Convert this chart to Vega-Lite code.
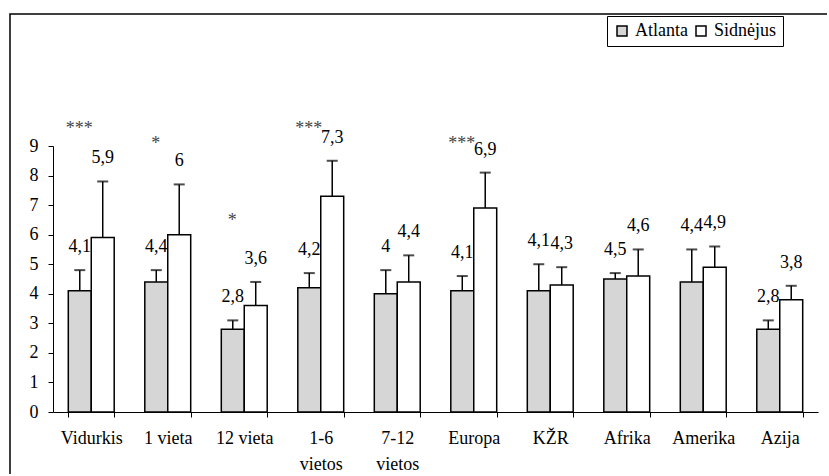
{
  "$schema": "https://vega.github.io/schema/vega-lite/v6.json",
  "autosize": "none",
  "width": 819,
  "height": 462,
  "padding": {"left": 10, "top": 14, "right": -2, "bottom": -2},
  "background": "white",
  "config": {
    "font": "Liberation Serif",
    "view": {"stroke": "black", "strokeWidth": 1.5},
    "locale": {"number": {"decimal": ",", "thousands": " ", "grouping": [3], "currency": ["", " €"]}},
    "legend": {"labelFont": "Liberation Serif"},
    "axis": {
      "grid": false,
      "title": null,
      "domainColor": "black",
      "domainWidth": 1,
      "tickColor": "black",
      "tickWidth": 1,
      "tickSize": 5,
      "labelColor": "black",
      "labelFont": "Liberation Serif",
      "labelFontSize": 18
    }
  },
  "datasets": {
    "bars": [
      {"grupe": "Vidurkis", "miestas": "Atlanta", "vidurkis": 4.1, "virsus": 4.8},
      {"grupe": "Vidurkis", "miestas": "Sidnėjus", "vidurkis": 5.9, "virsus": 7.8},
      {"grupe": "1 vieta", "miestas": "Atlanta", "vidurkis": 4.4, "virsus": 4.8},
      {"grupe": "1 vieta", "miestas": "Sidnėjus", "vidurkis": 6, "virsus": 7.7},
      {"grupe": "12 vieta", "miestas": "Atlanta", "vidurkis": 2.8, "virsus": 3.1},
      {"grupe": "12 vieta", "miestas": "Sidnėjus", "vidurkis": 3.6, "virsus": 4.4},
      {"grupe": "1-6 vietos", "miestas": "Atlanta", "vidurkis": 4.2, "virsus": 4.7},
      {"grupe": "1-6 vietos", "miestas": "Sidnėjus", "vidurkis": 7.3, "virsus": 8.5},
      {"grupe": "7-12 vietos", "miestas": "Atlanta", "vidurkis": 4, "virsus": 4.8},
      {"grupe": "7-12 vietos", "miestas": "Sidnėjus", "vidurkis": 4.4, "virsus": 5.3},
      {"grupe": "Europa", "miestas": "Atlanta", "vidurkis": 4.1, "virsus": 4.6},
      {"grupe": "Europa", "miestas": "Sidnėjus", "vidurkis": 6.9, "virsus": 8.1},
      {"grupe": "KŽR", "miestas": "Atlanta", "vidurkis": 4.1, "virsus": 5.0},
      {"grupe": "KŽR", "miestas": "Sidnėjus", "vidurkis": 4.3, "virsus": 4.9},
      {"grupe": "Afrika", "miestas": "Atlanta", "vidurkis": 4.5, "virsus": 4.7},
      {"grupe": "Afrika", "miestas": "Sidnėjus", "vidurkis": 4.6, "virsus": 5.5},
      {"grupe": "Amerika", "miestas": "Atlanta", "vidurkis": 4.4, "virsus": 5.5},
      {"grupe": "Amerika", "miestas": "Sidnėjus", "vidurkis": 4.9, "virsus": 5.6},
      {"grupe": "Azija", "miestas": "Atlanta", "vidurkis": 2.8, "virsus": 3.1},
      {"grupe": "Azija", "miestas": "Sidnėjus", "vidurkis": 3.8, "virsus": 4.27}
    ],
    "reiksmingumas": [
      {"grupe": "Vidurkis", "zenklas": "***", "lygis": 9.4},
      {"grupe": "1 vieta", "zenklas": "*", "lygis": 8.9},
      {"grupe": "12 vieta", "zenklas": "*", "lygis": 6.3},
      {"grupe": "1-6 vietos", "zenklas": "***", "lygis": 9.4},
      {"grupe": "Europa", "zenklas": "***", "lygis": 8.9}
    ]
  },
  "layer": [
    {
      "data": {"name": "bars"},
      "mark": {"type": "bar", "stroke": "black", "strokeWidth": 1.5},
      "encoding": {
        "x": {
          "field": "grupe",
          "type": "nominal",
          "scale": {
            "domain": ["Vidurkis", "1 vieta", "12 vieta", "1-6 vietos", "7-12 vietos", "Europa", "KŽR", "Afrika", "Amerika", "Azija"],
            "range": [43, 808],
            "paddingInner": 0.4,
            "paddingOuter": 0.2
          },
          "axis": {
            "orient": "bottom",
            "offset": -64,
            "tickBand": "extent",
            "labelAngle": 0,
            "labelPadding": 12,
            "labelLineHeight": 26,
            "labelExpr": "indexof(datum.label, 'vietos') > 0 ? split(datum.label, ' ') : datum.label"
          }
        },
        "xOffset": {
          "field": "miestas",
          "type": "nominal",
          "scale": {"domain": ["Atlanta", "Sidnėjus"], "paddingInner": 0, "paddingOuter": 0}
        },
        "y": {
          "field": "vidurkis",
          "type": "quantitative",
          "scale": {"domain": [0, 9], "range": [398, 132], "nice": false},
          "axis": {
            "orient": "left",
            "offset": -43,
            "values": [0, 1, 2, 3, 4, 5, 6, 7, 8, 9],
            "labelPadding": 10
          }
        },
        "fill": {
          "field": "miestas",
          "type": "nominal",
          "scale": {"domain": ["Atlanta", "Sidnėjus"], "range": ["#d6d6d6", "#ffffff"]},
          "legend": {
            "orient": "none",
            "legendX": 597,
            "legendY": 2,
            "direction": "horizontal",
            "title": null,
            "symbolType": "square",
            "symbolSize": 100,
            "symbolStrokeColor": "black",
            "symbolStrokeWidth": 1.5,
            "labelFontSize": 18,
            "labelColor": "black",
            "labelOffset": 4,
            "columnPadding": 4,
            "padding": 6,
            "strokeColor": "black",
            "fillColor": "white"
          }
        }
      }
    },
    {
      "data": {"name": "bars"},
      "mark": {"type": "rule", "color": "black", "strokeWidth": 1.5},
      "encoding": {
        "x": {"field": "grupe", "type": "nominal"},
        "xOffset": {"field": "miestas", "type": "nominal"},
        "y": {"field": "vidurkis", "type": "quantitative"},
        "y2": {"field": "virsus"}
      }
    },
    {
      "data": {"name": "bars"},
      "mark": {"type": "tick", "orient": "horizontal", "color": "black", "size": 11, "thickness": 2},
      "encoding": {
        "x": {"field": "grupe", "type": "nominal"},
        "xOffset": {"field": "miestas", "type": "nominal"},
        "y": {"field": "virsus", "type": "quantitative"}
      }
    },
    {
      "data": {"name": "bars"},
      "mark": {"type": "text", "fontSize": 18, "color": "black", "baseline": "middle", "dy": -23},
      "encoding": {
        "x": {"field": "grupe", "type": "nominal"},
        "xOffset": {"field": "miestas", "type": "nominal"},
        "y": {"field": "virsus", "type": "quantitative"},
        "text": {"field": "vidurkis", "type": "quantitative", "format": "~g"}
      }
    },
    {
      "data": {"name": "reiksmingumas"},
      "mark": {"type": "text", "fontSize": 18, "color": "#444444", "baseline": "alphabetic", "dx": -12},
      "encoding": {
        "x": {"field": "grupe", "type": "nominal"},
        "y": {"field": "lygis", "type": "quantitative"},
        "text": {"field": "zenklas"}
      }
    }
  ]
}
